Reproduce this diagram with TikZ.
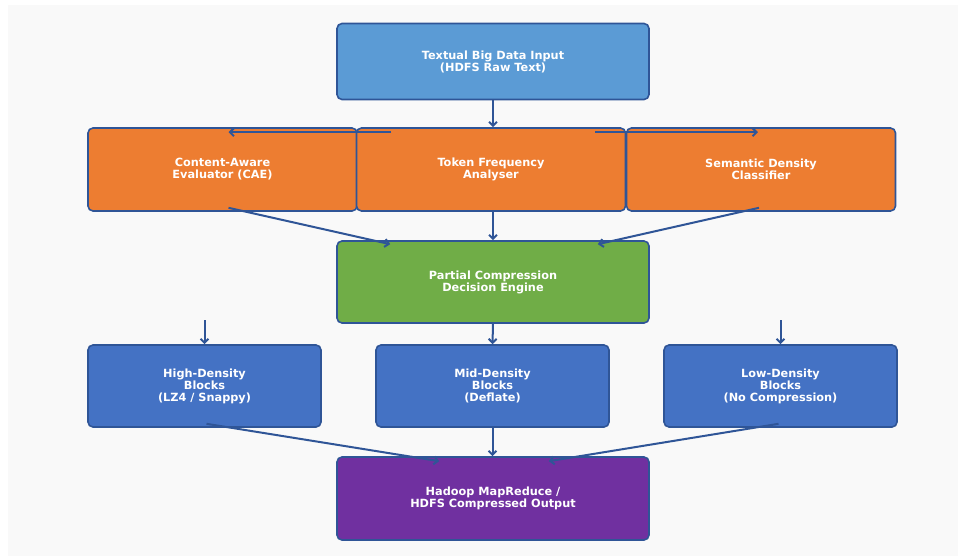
\documentclass[tikz,border=0pt]{standalone}
\usepackage{fontspec}
\setmainfont{DejaVu Sans}
\usetikzlibrary{positioning, arrows.meta}
\definecolor{PageGrey}{HTML}{F9F9F9}
\definecolor{InputBlue}{HTML}{5B9BD5}
\definecolor{StageOrange}{HTML}{ED7D31}
\definecolor{EngineGreen}{HTML}{70AD47}
\definecolor{BlockBlue}{HTML}{4472C4}
\definecolor{OutputPurple}{HTML}{7030A0}
\definecolor{EdgeBlue}{HTML}{2F5597}

\begin{document}
\begin{tikzpicture}[x=1pt, y=-1pt,
        block/.style  = {rectangle, rounded corners=5pt, draw=EdgeBlue, line width=1.6pt,
                         text=white, align=center, font=\bfseries\fontsize{11.3}{12}\selectfont},
        % wide boxes in the middle column
        wide/.style   = {block, minimum width=312pt, minimum height=76pt},
        % boxes of the analyser row
        stage/.style  = {block, fill=StageOrange, minimum width=269pt, minimum height=83pt},
        % boxes of the density row
        density/.style= {block, fill=BlockBlue, minimum width=233pt, minimum height=82pt},
        arrow/.style  = {draw=EdgeBlue, line width=2pt, -{Straight Barb[length=4pt, width=8pt]}}
    ]

    \useasboundingbox (0,0) rectangle (960,557);
    \fill[PageGrey] (8,5) rectangle (958,556);

    \node[wide, fill=InputBlue] (input) at (493,61.5) {Textual Big Data Input\\(HDFS Raw Text)};

    % --- Analyser row ---
    \node[stage] (cae) at (222.5,169.5) {Content-Aware\\Evaluator (CAE)};
    \node[stage] (token) at (491,169.5) {Token Frequency\\Analyser};
    \node[stage] (semantic) at (761,169.5) {Semantic Density\\Classifier};

    \node[wide, fill=EngineGreen, minimum height=82pt] (engine) at (493,282) {Partial Compression\\Decision Engine};

    % --- Density row ---
    \node[density] (high) at (204.5,386) {High-Density\\Blocks\\(LZ4 / Snappy)};
    \node[density] (mid) at (492.5,386) {Mid-Density\\Blocks\\(Deflate)};
    \node[density] (low) at (780.5,386) {Low-Density\\Blocks\\(No Compression)};

    \node[wide, fill=OutputPurple, minimum height=83pt] (output) at (493,498.5) {Hadoop MapReduce /\\HDFS Compressed Output};

    % free ends of the side arrows
    \coordinate (high_in) at ([yshift=24pt]high.north);
    \coordinate (low_in) at ([yshift=24pt]low.north);

    % Arrows
    \draw[arrow] (input.south) -- (input.south |- token.north);
    \draw[arrow] ([xshift=-100pt, yshift=-5pt]token.north) -- ([xshift=6pt, yshift=-5pt]cae.north);
    \draw[arrow] ([xshift=104pt, yshift=-5pt]token.north) -- ([xshift=-3pt, yshift=-5pt]semantic.north);

    \draw[arrow] ([xshift=6pt, yshift=4pt]cae.south) -- ([xshift=54pt, yshift=-4pt]engine.north west);
    \draw[arrow] (input.south |- token.south) -- (engine.north);
    \draw[arrow] ([xshift=-2pt, yshift=4pt]semantic.south) -- ([xshift=-52pt, yshift=-4pt]engine.north east);

    \draw[arrow] (high_in) -- (high.north);
    \draw[arrow] (engine.south) -- (mid.north);
    \draw[arrow] (low_in) -- (low.north);

    \draw[arrow] ([xshift=2pt, yshift=4pt]high.south) -- ([xshift=103pt, yshift=-5pt]output.north west);
    \draw[arrow] (mid.south) -- (mid.south |- output.north);
    \draw[arrow] ([xshift=-2pt, yshift=4pt]low.south) -- ([xshift=-101pt, yshift=-5pt]output.north east);

\end{tikzpicture}
\end{document}
